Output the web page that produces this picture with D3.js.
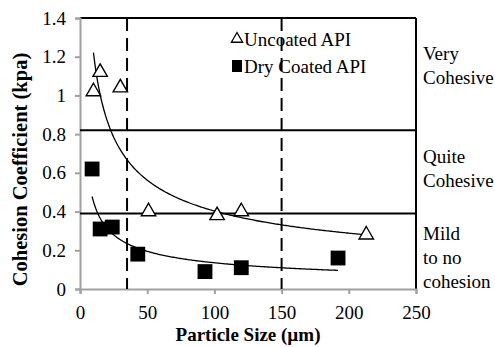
<!DOCTYPE html>
<html>
<head>
<meta charset="utf-8">
<script src="https://cdn.jsdelivr.net/npm/d3@7"></script>
<style>
  html, body { margin: 0; padding: 0; background: #fff; }
  svg { display: block; }
</style>
</head>
<body>
<svg id="chart" width="495" height="347"></svg>
<script>
// Uncoated API (open triangles)
const uncoatedSize = [10, 15, 30, 51, 102, 120, 213];
const uncoatedCoef = [1.02, 1.12, 1.04, 0.40, 0.38, 0.40, 0.28];
// Dry coated API (filled squares)
const coatedSize = [9, 15, 24, 43, 93, 120, 192];
const coatedCoef = [0.62, 0.31, 0.32, 0.18, 0.09, 0.11, 0.16];

// Cohesion class boundaries and particle-size markers
const cohesionBounds = [0.82, 0.39];
const sizeMarkers = [35, 150];

const xTicks = [0, 50, 100, 150, 200, 250];
const yTicks = [0, 0.2, 0.4, 0.6, 0.8, 1, 1.2, 1.4];
const legendLabels = ["Uncoated API", "Dry Coated API"];
// Class names placed beside the plot, centred on the given coefficient
const regionLabels = [
  { lines: ["Very", "Cohesive"], y: 1.157 },
  { lines: ["Quite", "Cohesive"], y: 0.62 },
  { lines: ["Mild", "to no", "cohesion"], y: 0.165 }
];

const SERIF = "'Liberation Serif'";

const svg = d3.select("#chart");
const m = { left: 80, right: 416, top: 18, bottom: 289 };

const x = d3.scaleLinear().domain([0, 250]).range([m.left, m.right]);
const y = d3.scaleLinear().domain([0, 1.4]).range([m.bottom, m.top]);

// Least-squares power-law fit (y = a * x^b) in log-log space
function powerFit(xs, ys) {
  const lx = xs.map(Math.log), ly = ys.map(Math.log);
  const mx = d3.mean(lx), my = d3.mean(ly);
  const b = d3.sum(lx, (v, i) => (v - mx) * (ly[i] - my)) / d3.sum(lx, v => (v - mx) ** 2);
  const a = Math.exp(my - b * mx);
  return v => a * Math.pow(v, b);
}

// Frame: black top/right, grey left/bottom axes
svg.append("line").attr("x1", m.left).attr("x2", m.right).attr("y1", m.top).attr("y2", m.top)
  .attr("stroke", "#000").attr("stroke-width", 2);
svg.append("line").attr("x1", m.right).attr("x2", m.right).attr("y1", m.top).attr("y2", m.bottom)
  .attr("stroke", "#000").attr("stroke-width", 2);

const fmt = d => String(Math.round(d * 10) / 10);

const yAxis = svg.append("g").attr("transform", `translate(${m.left},0)`)
  .call(d3.axisLeft(y).tickValues(yTicks).tickFormat(fmt).tickSize(5).tickPadding(9));
const xAxis = svg.append("g").attr("transform", `translate(0,${m.bottom})`)
  .call(d3.axisBottom(x).tickValues(xTicks).tickSize(5).tickPadding(12));
[yAxis, xAxis].forEach(g => {
  g.attr("font-family", null).attr("font-size", null);
  g.select(".domain").attr("stroke", "#a0a0a0").attr("stroke-width", 2);
  g.selectAll(".tick line").attr("stroke", "#a0a0a0").attr("stroke-width", 2);
  g.selectAll(".tick text").style("font-family", SERIF).style("font-size", "19px").attr("fill", "#000");
});

// Horizontal class boundaries
svg.selectAll(".bound").data(cohesionBounds).join("line")
  .attr("x1", m.left).attr("x2", m.right)
  .attr("y1", d => y(d)).attr("y2", d => y(d))
  .attr("stroke", "#000").attr("stroke-width", 2);

// Dashed size markers
svg.selectAll(".marker").data(sizeMarkers).join("line")
  .attr("x1", d => x(d)).attr("x2", d => x(d))
  .attr("y1", m.top).attr("y2", m.bottom)
  .attr("stroke", "#000").attr("stroke-width", 2).attr("stroke-dasharray", "13,7");

// Power-law trend lines
function trend(xs, ys) {
  const f = powerFit(xs, ys);
  const lo = d3.min(xs), hi = d3.max(xs);
  const pts = d3.range(0, 201).map(i => lo + (hi - lo) * i / 200);
  svg.append("path")
    .attr("d", d3.line().x(d => x(d)).y(d => y(f(d)))(pts))
    .attr("fill", "none").attr("stroke", "#000").attr("stroke-width", 1.3);
}
trend(uncoatedSize, uncoatedCoef);
trend(coatedSize, coatedCoef);

// Markers
const tri = d3.symbol().type(d3.symbolTriangle).size(90);
const sq = d3.symbol().type(d3.symbolSquare).size(220);

svg.selectAll(".unc").data(uncoatedSize).join("path")
  .attr("d", tri)
  .attr("transform", (d, i) => `translate(${x(d)},${y(uncoatedCoef[i])})`)
  .attr("fill", "#fff").attr("stroke", "#000").attr("stroke-width", 1.4);

svg.selectAll(".coat").data(coatedSize).join("path")
  .attr("d", sq)
  .attr("transform", (d, i) => `translate(${x(d)},${y(coatedCoef[i])})`)
  .attr("fill", "#000");

// Legend
const lg = svg.append("g");
lg.append("path").attr("d", d3.symbol().type(d3.symbolTriangle).size(55))
  .attr("transform", "translate(237,39)").attr("fill", "#fff").attr("stroke", "#000").attr("stroke-width", 1.3);
lg.append("rect").attr("x", 232).attr("y", 60).attr("width", 10).attr("height", 12).attr("fill", "#000");
lg.selectAll("text").data(legendLabels).join("text")
  .attr("x", 244).attr("y", (d, i) => 46 + i * 27)
  .style("font-family", SERIF).style("font-size", "19px").text(d => d);

// Cohesion class labels on the right
regionLabels.forEach(r => {
  const n = r.lines.length;
  const t = svg.append("text").style("font-family", SERIF).style("font-size", "19px");
  r.lines.forEach((ln, i) => {
    t.append("tspan").attr("x", 423)
      .attr("y", y(r.y) + (i - (n - 1) / 2) * 24 + 6.5)
      .text(ln);
  });
});

// Axis titles
svg.append("text").attr("x", (m.left + m.right) / 2).attr("y", 341)
  .attr("text-anchor", "middle")
  .style("font-family", SERIF).style("font-weight", "bold").style("font-size", "19px")
  .text("Particle Size (µm)");
svg.append("text").attr("transform", `translate(27,${(52 + 287) / 2}) rotate(-90)`)
  .attr("text-anchor", "middle")
  .style("font-family", SERIF).style("font-weight", "bold").style("font-size", "20.5px")
  .text("Cohesion Coefficient (kpa)");
</script>
</body>
</html>
